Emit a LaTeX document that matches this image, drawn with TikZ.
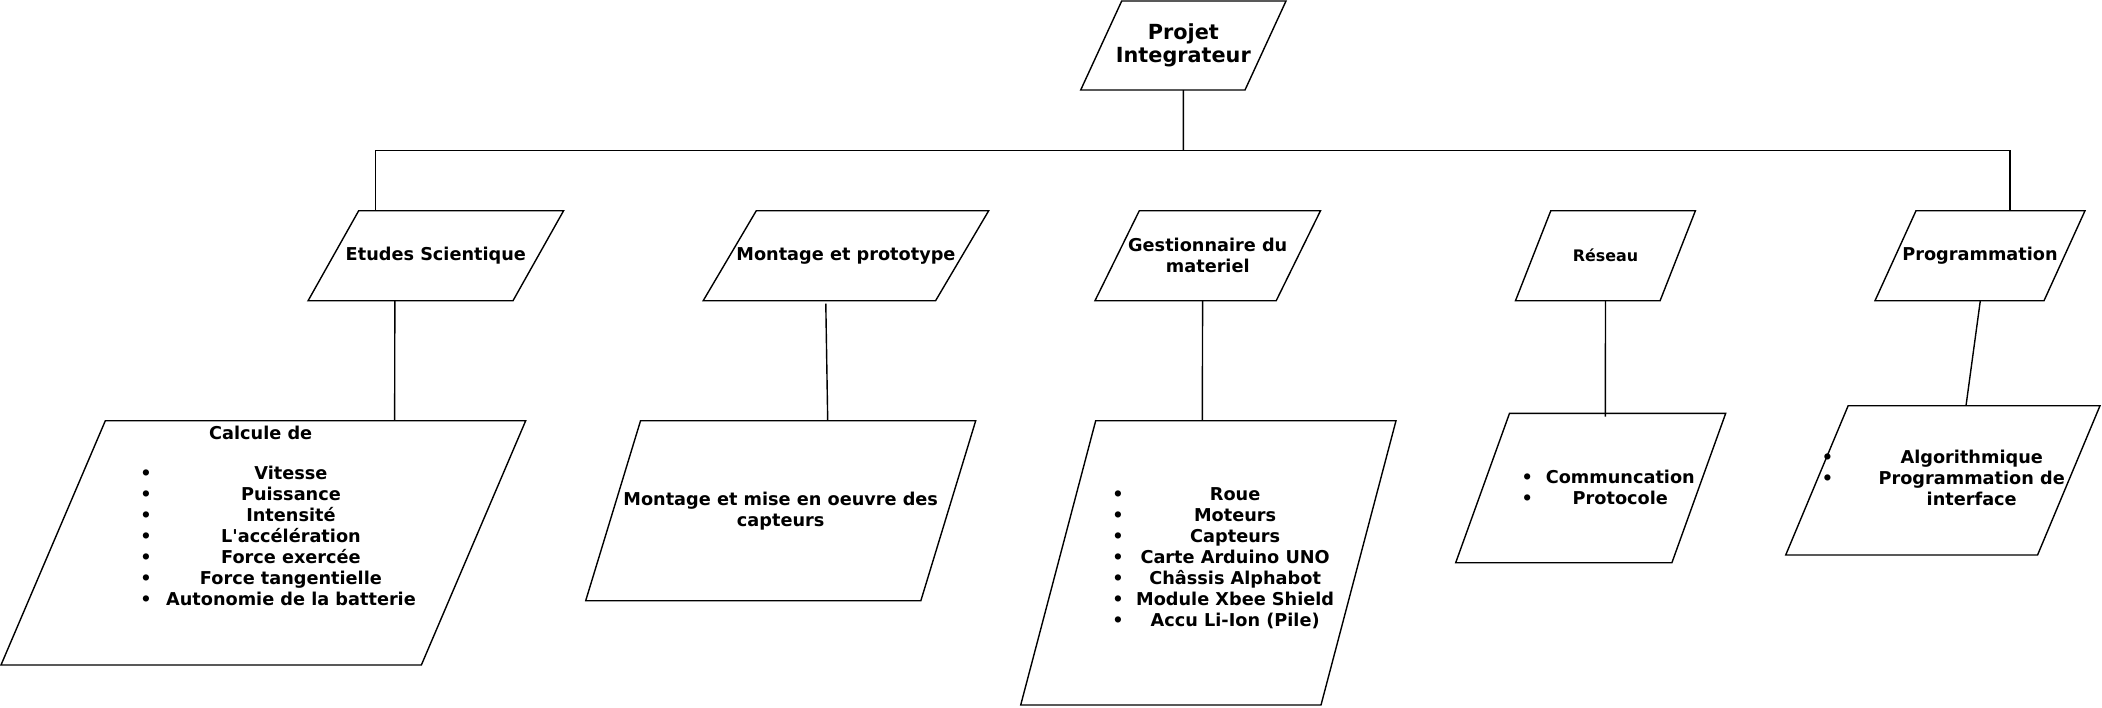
\documentclass[tikz,border=0pt]{standalone}
\usepackage{fontspec}
\setmainfont{DejaVu Sans}
\tikzset{
    link/.style={line width=1.4pt},
    para/.style={rectangle, inner sep=2pt, outer sep=0pt, align=center, font=\bfseries\fontsize{17.7}{21}\selectfont,
        append after command={\pgfextra{\draw[link] ([xshift=-#1pt/2]\tikzlastnode.south west) -- ([xshift=-#1pt/2]\tikzlastnode.south east)
            -- ([xshift=#1pt/2]\tikzlastnode.north east) -- ([xshift=#1pt/2]\tikzlastnode.north west) -- cycle;}}},
    txt/.style={inner sep=0pt, align=center, font=\bfseries\fontsize{17.7}{21}\selectfont}
}

\begin{document}
\begin{tikzpicture}[x=1pt,y=-1pt]
    \useasboundingbox (0,0) rectangle (2102,707);
    \node[para=41, minimum width=164.3pt, minimum height=89pt, font=\bfseries\fontsize{20.8}{23.3}\selectfont] (projet) at (1183.35,45.5) {Projet\\Integrateur};
    \node[para=50.6, minimum width=204.9pt, minimum height=90pt] (etudes) at (435.85,255.7) {Etudes Scientique};
    \node[para=53.1, minimum width=232.4pt, minimum height=90pt] (montage) at (845.95,255.7) {Montage et prototype};
    \node[para=44.3, minimum width=181.2pt, minimum height=90pt] (gestion) at (1207.75,255.7) {Gestionnaire du\\materiel};
    \node[para=35.3, minimum width=144.6pt, minimum height=90pt, font=\bfseries\fontsize{15.9}{19}\selectfont] (reseau) at (1605.45,255.7) {Réseau};
    \node[para=41, minimum width=169pt, minimum height=90pt] (prog) at (1980,255.7) {Programmation};

    \node[para=104.35, minimum width=420.35pt, minimum height=244.3pt] (calcule) at (263.35,542.85) {};
    \node[para=54.85, minimum width=335.15pt, minimum height=180pt] (capteurs) at (780.7,510.7) {Montage et mise en oeuvre des\\capteurs};
    \node[para=75, minimum width=300.3pt, minimum height=284.3pt] (materiel) at (1208.35,562.85) {};
    \node[para=53.8, minimum width=216.2pt, minimum height=149.4pt] (protocole) at (1590.7,488) {};
    \node[para=62.45, minimum width=251.85pt, minimum height=149.3pt] (interface) at (1942.85,480.35) {};

    \node[txt] (calculeTitle) at (260.7,433) {Calcule de};
    \node[txt, anchor=east] (calculeList) at (416,538.2) {\begin{tabular}{@{}c@{\hspace{14.4pt}}c@{}}
        \textbullet & Vitesse\\ \textbullet & Puissance\\ \textbullet & Intensité\\ \textbullet & L\textquotesingle accélération\\
        \textbullet & Force exercée\\ \textbullet & Force tangentielle\\ \textbullet & Autonomie de la batterie
    \end{tabular}};
    \node[txt, anchor=east] (materielList) at (1334.3,559.5) {\begin{tabular}{@{}c@{\hspace{12.4pt}}c@{}}
        \textbullet & Roue\\ \textbullet & Moteurs\\ \textbullet & Capteurs\\ \textbullet & Carte Arduino UNO\\
        \textbullet & Châssis Alphabot\\ \textbullet & Module Xbee Shield\\ \textbullet & Accu Li-Ion (Pile)
    \end{tabular}};
    \node[txt, anchor=east] (protocoleList) at (1695,489.5) {\begin{tabular}{@{}c@{\hspace{13pt}}c@{}}
        \textbullet & Communcation\\ \textbullet & Protocole
    \end{tabular}};
    \node[txt, anchor=east] (interfaceList) at (2065,479.8) {\begin{tabular}{@{}c@{\hspace{45.4pt}}c@{}}
        \textbullet & Algorithmique\\ \textbullet & Programmation de\\ & interface
    \end{tabular}};

    \coordinate (bus) at (1183.3,150.7);
    \draw[link] (projet.south) -- (bus);
    \draw[link] ([xshift=-60.35pt]etudes.north) |- (bus) -| ([xshift=30pt]prog.north);
    \draw[link] ([xshift=-41pt]etudes.south) -- ([xshift=131.3pt]calcule.north);
    \draw[link] ([xshift=-20.15pt,yshift=-3pt]montage.south) -- ([xshift=47pt]capteurs.north);
    \draw[link] ([xshift=-5.15pt]gestion.south) -- ([xshift=-6.05pt]materiel.north);
    \draw[link] (reseau.south) -- ([xshift=14.7pt,yshift=-3.4pt]protocole.north);
    \draw[link] ([xshift=0.3pt]prog.south) -- ([xshift=23.15pt]interface.north);
\end{tikzpicture}
\end{document}
